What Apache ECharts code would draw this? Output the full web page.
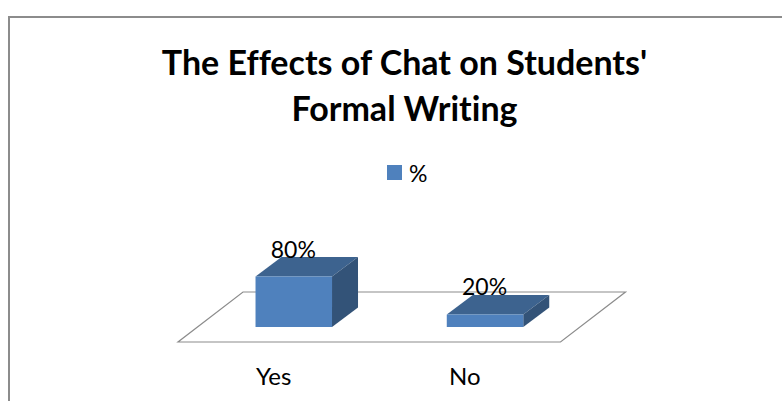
<!DOCTYPE html>
<html><head><meta charset="utf-8">
<style>html,body{margin:0;padding:0;background:#fff}#c{width:782px;height:401px}#c text{font-variant-ligatures:none}</style>
<script src="https://cdn.jsdelivr.net/npm/echarts@6/dist/echarts.min.js"></script>
</head><body><div id="c"></div>
<script>
var categories = ['Yes', 'No'];
var values = [80, 20];
var valueLabels = ['80%', '20%'];
var seriesName = '%';
var titleLines = "The Effects of Chat on Students'\nFormal Writing";

var FONT = 'Lato';
var chart = echarts.init(document.getElementById('c'), null, {renderer: 'svg'});
function bar3d(params, api) {
  var cs = params.coordSys;
  var i = api.value(0), v = api.value(1);
  var base = api.coord([i, 0]), top = api.coord([i, v]);
  var band = cs.width / categories.length;
  var w = band * 0.4;
  var floorDx = 65, floorDy = 50;
  var ox = floorDx * 0.31, oy = floorDy * 0.3;
  var dx = 26, dy = 19.5;
  var x0 = base[0] + ox - w / 2, x1 = x0 + w;
  var yb = base[1] - oy, yt = top[1] - oy;
  function poly(pts, color) { return {type: 'polygon', shape: {points: pts}, style: {fill: color}}; }
  return {type: 'group', children: [
    poly([[x0, yt], [x1, yt], [x1 + dx, yt - dy], [x0 + dx, yt - dy]], '#3d638f'),
    poly([[x1, yt], [x1 + dx, yt - dy], [x1 + dx, yb - dy], [x1, yb]], '#335378'),
    {type: 'rect', shape: {x: x0, y: yt, width: w, height: yb - yt}, style: {fill: '#4f81bd'}},
    {type: 'text', style: {text: valueLabels[i], x: x0 + w / 2 - 0.5, y: yt - 28, align: 'center', verticalAlign: 'middle', font: '23px ' + FONT, fill: '#000'}, z2: 10}
  ]};
}
function floor(params) {
  var cs = params.coordSys;
  var x = cs.x, y = cs.y + cs.height, w = cs.width, dx = 65, dy = 50;
  return {type: 'polygon', shape: {points: [[x, y], [x + w, y], [x + w + dx, y - dy], [x + dx, y - dy]]},
    style: {fill: '#fff', stroke: '#8c8c8c', lineWidth: 1.2}};
}
chart.setOption({
  animation: false,
  backgroundColor: '#fff',
  title: {text: titleLines, left: 399.5, top: 33, textAlign: 'center',
    textStyle: {fontFamily: FONT, fontWeight: 'bold', fontSize: 34, lineHeight: 46, color: '#000'}},
  legend: {show: true, left: 382, top: 156, itemWidth: 15, itemHeight: 15, itemGap: 6,
    data: [{name: seriesName, icon: 'rect', itemStyle: {color: '#4f81bd'}}],
    textStyle: {fontFamily: FONT, fontSize: 23, color: '#000', padding: [0, 0, 4, 2]}},
  grid: {left: 178, top: 279, width: 382.5, height: 63},
  xAxis: {type: 'category', data: categories, axisLine: {show: false}, axisTick: {show: false}, splitLine: {show: false},
    axisLabel: {fontFamily: FONT, fontSize: 24, color: '#000', margin: 21}},
  yAxis: {type: 'value', min: 0, max: 100, show: false},
  series: [
    {type: 'custom', name: 'floor', coordinateSystem: 'cartesian2d', renderItem: floor, data: [[0, 0]], silent: true, z: 1, clip: false},
    {type: 'custom', name: seriesName, coordinateSystem: 'cartesian2d', renderItem: bar3d, itemStyle: {color: '#4f81bd'},
      encode: {x: 0, y: 1}, clip: false, z: 2, data: values.map(function (v, i) { return [i, v]; })}
  ],
  graphic: [{type: 'rect', z: -1, silent: true, shape: {x: 9, y: 17, width: 900, height: 600}, style: {fill: 'none', stroke: '#8c8c8c', lineWidth: 2}}]
});
</script></body></html>
